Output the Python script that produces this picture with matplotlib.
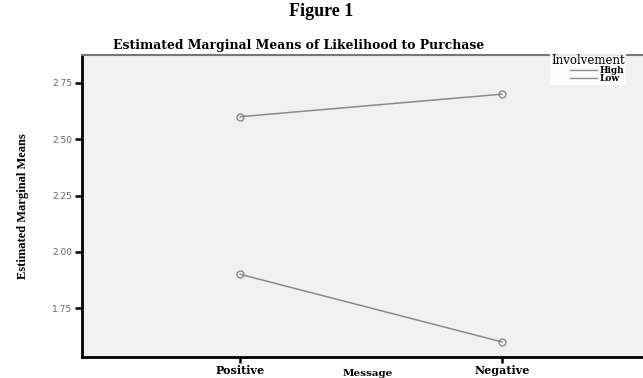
import matplotlib
matplotlib.use('Agg')
import matplotlib.pyplot as plt
from matplotlib.lines import Line2D

# data
messages = ['Positive', 'Negative']
groups = ['High', 'Low']
high_means = [2.60, 2.70]
low_means = [1.90, 1.60]
yticks = [1.75, 2.00, 2.25, 2.50, 2.75]

SERIF = 'Liberation Serif'
WIDE = 'DejaVu Serif'
LINE_GREY = '#8a8a8a'

fig = plt.figure(figsize=(6.43, 3.78), dpi=100)
fig.patch.set_facecolor('white')

ax = fig.add_axes([0.1275, 0.0556, 0.885, 0.7989])
ax.set_facecolor('#f1f1f1')

x = list(range(len(messages)))
for vals in (high_means, low_means):
    ax.plot(x, vals, color=LINE_GREY, lw=1.1, marker='o', markersize=5,
            markerfacecolor='none', markeredgecolor=LINE_GREY, markeredgewidth=1.0)

ax.set_xlim(-0.605, 1.57)
ax.set_ylim(1.533, 2.874)
ax.set_xticks(x)
ax.set_xticklabels(messages, fontfamily=WIDE, fontweight='bold', fontsize=8)
ax.set_yticks(yticks)
ax.set_yticklabels(['%.2f' % v for v in yticks], fontfamily='DejaVu Sans',
                   fontsize=6.5, color='#666666')

ax.tick_params(axis='y', length=5, width=1.8, color='black', pad=2)
ax.tick_params(axis='x', length=4, width=1.8, color='black', pad=1.5)

ax.spines['left'].set_linewidth(2.0)
ax.spines['bottom'].set_linewidth(2.0)
ax.spines['top'].set_linewidth(1.5)
ax.spines['top'].set_color('#777777')
ax.spines['right'].set_visible(False)

fig.text(0.5, 0.993, 'Figure 1', ha='center', va='top', fontfamily=SERIF,
         fontweight='bold', fontsize=13)
fig.text(0.465, 1 - 46 / 378., 'Estimated Marginal Means of Likelihood to Purchase',
         ha='center', va='center', fontfamily=WIDE, fontweight='bold', fontsize=8.9)
fig.text(0.035, 1 - 206 / 378., 'Estimated Marginal Means', rotation=90,
         ha='center', va='center', fontfamily=SERIF, fontweight='bold', fontsize=9)
fig.text(368 / 643., 1 - 373 / 378., 'Message', ha='center', va='center',
         fontfamily=WIDE, fontweight='bold', fontsize=7.5)

handles = [Line2D([], [], color=LINE_GREY, lw=1) for _ in groups]
leg = fig.legend(handles, groups, title='Involvement', loc='upper left',
                 bbox_to_anchor=(550 / 643., 1 - 53 / 378.),
                 prop={'family': WIDE, 'weight': 'bold', 'size': 6.5},
                 title_fontproperties={'family': WIDE, 'size': 8.5},
                 frameon=True, fancybox=False, handlelength=3.0,
                 handletextpad=0.3, labelspacing=-0.1, borderpad=0.1,
                 borderaxespad=0, alignment='right')
leg.get_frame().set_facecolor('white')
leg.get_frame().set_edgecolor('white')

plt.savefig('out.png', dpi=100)
